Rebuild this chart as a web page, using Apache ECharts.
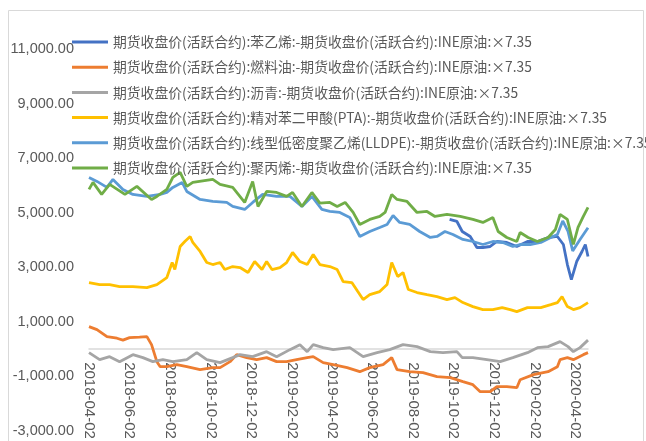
<!DOCTYPE html>
<html>
<head>
<meta charset="utf-8">
<script src="https://cdn.jsdelivr.net/npm/echarts@6/dist/echarts.min.js"></script>
<style>
  html, body { margin: 0; padding: 0; background: #fff; }
  #main { width: 646px; height: 441px; }
</style>
</head>
<body>
<div id="main"></div>
<script>
// 图例名称
var seriesNames = [
    '期货收盘价(活跃合约):苯乙烯:-期货收盘价(活跃合约):INE原油:×7.35',
    '期货收盘价(活跃合约):燃料油:-期货收盘价(活跃合约):INE原油:×7.35',
    '期货收盘价(活跃合约):沥青:-期货收盘价(活跃合约):INE原油:×7.35',
    '期货收盘价(活跃合约):精对苯二甲酸(PTA):-期货收盘价(活跃合约):INE原油:×7.35',
    '期货收盘价(活跃合约):线型低密度聚乙烯(LLDPE):-期货收盘价(活跃合约):INE原油:×7.35',
    '期货收盘价(活跃合约):聚丙烯:-期货收盘价(活跃合约):INE原油:×7.35'
];
var seriesColors = ['#4472C4', '#ED7D31', '#A5A5A5', '#FFC000', '#5B9BD5', '#70AD47'];

// x轴刻度标签
var tickDates = ['2018-04-02', '2018-06-02', '2018-08-02', '2018-10-02', '2018-12-02', '2019-02-02',
    '2019-04-02', '2019-06-02', '2019-08-02', '2019-10-02', '2019-12-02', '2020-02-02', '2020-04-02'];
var startDate = '2018-04-02';
var endDate = '2020-04-21';

// y轴刻度
var yMin = -3000, yMax = 11000, yStep = 2000;

// 苯乙烯
var styrene = [
    ['2019-09-26', 4753], ['2019-10-07', 4679], ['2019-10-15', 4312], ['2019-10-27', 4129], ['2019-11-06', 3725],
    ['2019-11-15', 3725], ['2019-11-26', 3762], ['2019-12-06', 3945], ['2019-12-21', 3909], ['2020-01-05', 3762],
    ['2020-01-21', 3945], ['2020-02-05', 3945], ['2020-02-21', 4092], ['2020-03-06', 4129], ['2020-03-15', 3835],
    ['2020-03-21', 3101], ['2020-03-27', 2551], ['2020-04-04', 3211], ['2020-04-12', 3579], ['2020-04-17', 3835],
    ['2020-04-21', 3395]
];
// 燃料油
var fuelOil = [
    ['2018-04-02', 826], ['2018-04-14', 716], ['2018-04-29', 459], ['2018-05-14', 400], ['2018-05-23', 330],
    ['2018-06-02', 422], ['2018-06-17', 440], ['2018-06-28', 459], ['2018-07-05', 165], ['2018-07-13', -459],
    ['2018-07-18', -642], ['2018-07-28', -642], ['2018-08-12', -569], ['2018-08-27', -642], ['2018-09-16', -752],
    ['2018-10-05', -679], ['2018-10-16', -679], ['2018-10-31', -459], ['2018-11-10', -202], ['2018-11-25', -312],
    ['2018-12-10', -385], ['2018-12-25', -312], ['2019-01-09', -459], ['2019-01-24', -459], ['2019-02-08', -385],
    ['2019-02-24', -312], ['2019-03-05', -275], ['2019-03-20', -495], ['2019-04-04', -569], ['2019-04-25', -679],
    ['2019-05-14', -826], ['2019-05-29', -679], ['2019-06-18', -569], ['2019-07-01', -312], ['2019-07-09', -752],
    ['2019-07-28', -826], ['2019-08-17', -862], ['2019-09-07', -1009], ['2019-09-27', -1046], ['2019-10-16', -1193],
    ['2019-10-31', -1303], ['2019-11-11', -1560], ['2019-11-26', -1560], ['2019-12-06', -1376], ['2019-12-21', -1376],
    ['2020-01-05', -1413], ['2020-01-10', -1120], ['2020-01-30', -936], ['2020-02-21', -826], ['2020-03-06', -642],
    ['2020-03-10', -385], ['2020-03-21', -312], ['2020-03-30', -385], ['2020-04-14', -202], ['2020-04-21', -128]
];
// 沥青
var asphalt = [
    ['2018-04-02', -128], ['2018-04-18', -385], ['2018-05-03', -275], ['2018-05-18', -459], ['2018-06-07', -202],
    ['2018-06-22', -312], ['2018-07-07', -459], ['2018-07-22', -385], ['2018-08-06', -459], ['2018-08-27', -385],
    ['2018-09-11', -128], ['2018-09-26', -385], ['2018-10-16', -495], ['2018-11-04', -312], ['2018-11-15', -202],
    ['2018-12-04', -275], ['2018-12-25', -92], ['2019-01-09', -275], ['2019-01-29', -18], ['2019-02-13', 165],
    ['2019-02-24', -92], ['2019-03-05', 165], ['2019-03-20', 55], ['2019-04-04', -18], ['2019-04-29', 55],
    ['2019-05-19', -275], ['2019-06-09', -128], ['2019-06-28', -18], ['2019-07-18', 165], ['2019-08-08', 92],
    ['2019-08-28', -92], ['2019-09-16', -128], ['2019-10-07', -92], ['2019-10-15', -312], ['2019-10-31', -312],
    ['2019-11-21', -385], ['2019-12-11', -459], ['2019-12-30', -312], ['2020-01-21', -128], ['2020-02-05', 55],
    ['2020-02-21', 92], ['2020-03-10', 275], ['2020-03-22', 92], ['2020-03-30', -92], ['2020-04-09', 55],
    ['2020-04-21', 330]
];
// PTA
var pta = [
    ['2018-04-02', 2441], ['2018-04-18', 2367], ['2018-05-03', 2367], ['2018-05-18', 2294], ['2018-06-07', 2294],
    ['2018-06-28', 2257], ['2018-07-13', 2367], ['2018-07-28', 2624], ['2018-08-05', 3175], ['2018-08-09', 2918],
    ['2018-08-17', 3762], ['2018-08-24', 3945], ['2018-09-01', 4129], ['2018-09-05', 3909], ['2018-09-16', 3579],
    ['2018-09-26', 3175], ['2018-10-05', 3101], ['2018-10-16', 3175], ['2018-10-23', 2918], ['2018-11-04', 3028],
    ['2018-11-15', 2991], ['2018-11-27', 2808], ['2018-12-07', 3211], ['2018-12-18', 2918], ['2018-12-25', 3211],
    ['2019-01-02', 2918], ['2019-01-14', 2991], ['2019-01-24', 3175], ['2019-02-02', 3542], ['2019-02-13', 3211],
    ['2019-02-24', 3101], ['2019-03-05', 3468], ['2019-03-15', 3101], ['2019-03-30', 3028], ['2019-04-10', 2918],
    ['2019-04-19', 2477], ['2019-05-02', 2441], ['2019-05-11', 2110], ['2019-05-19', 1817], ['2019-05-29', 2000],
    ['2019-06-13', 2110], ['2019-06-24', 2367], ['2019-07-01', 3175], ['2019-07-10', 2661], ['2019-07-18', 2808],
    ['2019-07-26', 2184], ['2019-08-08', 2074], ['2019-08-23', 2000], ['2019-09-07', 1927], ['2019-09-22', 1817],
    ['2019-10-04', 1890], ['2019-10-16', 1707], ['2019-10-31', 1560], ['2019-11-15', 1450], ['2019-11-30', 1450],
    ['2019-12-14', 1523], ['2019-12-26', 1450], ['2020-01-05', 1376], ['2020-01-21', 1523], ['2020-02-10', 1523],
    ['2020-02-25', 1633], ['2020-03-06', 1707], ['2020-03-13', 1927], ['2020-03-21', 1560], ['2020-03-30', 1450],
    ['2020-04-09', 1523], ['2020-04-21', 1707]
];
// LLDPE
var lldpe = [
    ['2018-04-02', 6294], ['2018-04-14', 6147], ['2018-04-29', 5927], ['2018-05-08', 6220], ['2018-05-23', 5854],
    ['2018-06-07', 5670], ['2018-06-28', 5597], ['2018-07-18', 5670], ['2018-07-28', 5743], ['2018-08-06', 5927],
    ['2018-08-20', 6110], ['2018-08-27', 5780], ['2018-09-16', 5487], ['2018-10-05', 5413], ['2018-10-26', 5377],
    ['2018-11-04', 5230], ['2018-11-22', 5120], ['2018-12-04', 5377], ['2018-12-19', 5670], ['2019-01-09', 5597],
    ['2019-01-29', 5597], ['2019-02-16', 5230], ['2019-03-03', 5597], ['2019-03-18', 5120], ['2019-03-30', 5046],
    ['2019-04-14', 5010], ['2019-04-29', 4826], ['2019-05-14', 4129], ['2019-05-29', 4312], ['2019-06-13', 4459],
    ['2019-06-24', 4569], ['2019-07-03', 4900], ['2019-07-13', 4643], ['2019-07-28', 4569], ['2019-08-12', 4312],
    ['2019-08-28', 4092], ['2019-09-07', 4129], ['2019-09-19', 4312], ['2019-10-01', 4202], ['2019-10-16', 4019],
    ['2019-10-31', 3945], ['2019-11-15', 3835], ['2019-11-30', 3945], ['2019-12-15', 3909], ['2019-12-30', 3762],
    ['2020-01-10', 3835], ['2020-01-25', 3835], ['2020-02-10', 3909], ['2020-02-25', 4092], ['2020-03-06', 4202],
    ['2020-03-14', 4700], ['2020-03-22', 4312], ['2020-03-29', 3600], ['2020-04-09', 4019], ['2020-04-21', 4450]
];
// 聚丙烯
var pp = [
    ['2018-04-02', 5854], ['2018-04-08', 6110], ['2018-04-21', 5670], ['2018-05-03', 6037], ['2018-05-26', 5670],
    ['2018-06-13', 5964], ['2018-07-05', 5487], ['2018-07-13', 5597], ['2018-07-28', 5854], ['2018-08-06', 6294],
    ['2018-08-17', 6478], ['2018-08-27', 5964], ['2018-09-05', 6110], ['2018-10-05', 6220], ['2018-10-16', 6037],
    ['2018-11-04', 5927], ['2018-11-22', 5377], ['2018-12-04', 6147], ['2018-12-12', 5230], ['2018-12-25', 5780],
    ['2019-01-09', 5743], ['2019-01-24', 5597], ['2019-02-02', 5743], ['2019-02-16', 5230], ['2019-03-03', 5743],
    ['2019-03-15', 5350], ['2019-03-30', 5377], ['2019-04-10', 5230], ['2019-04-22', 5377], ['2019-05-04', 5010],
    ['2019-05-14', 4569], ['2019-05-29', 4753], ['2019-06-13', 4863], ['2019-06-21', 5010], ['2019-07-01', 5670],
    ['2019-07-09', 5487], ['2019-07-24', 5413], ['2019-08-08', 5010], ['2019-08-23', 5046], ['2019-09-04', 4863],
    ['2019-09-22', 4936], ['2019-10-12', 4863], ['2019-10-31', 4753], ['2019-11-15', 4643], ['2019-11-30', 4826],
    ['2019-12-08', 4312], ['2019-12-21', 4092], ['2020-01-05', 3945], ['2020-01-10', 4276], ['2020-01-22', 4092],
    ['2020-02-05', 3945], ['2020-02-21', 4092], ['2020-03-03', 4386], ['2020-03-10', 4936], ['2020-03-21', 4753],
    ['2020-03-30', 3835], ['2020-04-06', 4459], ['2020-04-14', 4863], ['2020-04-21', 5193]
];

var allData = [styrene, fuelOil, asphalt, pta, lldpe, pp];

function ts(s) {
    var p = s.split('-');
    return new Date(+p[0], +p[1] - 1, +p[2]).getTime();
}
function pad(n) { return n < 10 ? '0' + n : '' + n; }

var myChart = echarts.init(document.getElementById('main'));

// 网格
var gridTop = 49, gridBottom = 10, chartH = 441;
var gridH = chartH - gridTop - gridBottom;
// x轴放到0的位置（标签跟着轴线走）
var xOffset = -gridH * (0 - yMin) / (yMax - yMin);

var series = [];
for (var i = 0; i < allData.length; i++) {
    series.push({
        name: seriesNames[i],
        type: 'line',
        showSymbol: false,
        symbol: 'none',
        lineStyle: { width: 2.8, color: seriesColors[i] },
        itemStyle: { color: seriesColors[i] },
        data: allData[i].map(function (d) { return [ts(d[0]), d[1]]; })
    });
}

option = {
    animation: false,
    color: seriesColors,
    textStyle: { fontFamily: "'Liberation Sans', 'Noto Sans CJK SC', sans-serif" },
    graphic: [{
        type: 'rect',
        shape: { x: 8.5, y: 10.5, width: 635, height: 440 },
        style: { fill: 'none', stroke: '#D9D9D9', lineWidth: 1 },
        silent: true
    }],
    legend: {
        orient: 'vertical',
        left: 72,
        top: 34,
        padding: 0,
        icon: 'rect',
        itemWidth: 36,
        itemHeight: 3,
        itemGap: 9.2,
        textStyle: {
            color: '#595959',
            fontSize: 13.8,
            lineHeight: 16,
            fontFamily: "'Noto Sans CJK SC', sans-serif"
        },
        data: seriesNames
    },
    grid: {
        left: 89,
        right: 58,
        top: gridTop,
        bottom: gridBottom,
        outerBoundsMode: 'none'
    },
    xAxis: {
        type: 'value',
        min: ts(startDate),
        max: ts(endDate),
        offset: xOffset,
        axisLine: { onZero: false, lineStyle: { color: '#D9D9D9', width: 1.5 } },
        axisTick: { show: false },
        splitLine: { show: false },
        axisLabel: {
            customValues: tickDates.map(ts),
            rotate: -90,
            margin: 13,
            color: '#595959',
            fontSize: 15,
            hideOverlap: false,
            formatter: function (v) {
                var d = new Date(v);
                return d.getFullYear() + '-' + pad(d.getMonth() + 1) + '-' + pad(d.getDate());
            }
        }
    },
    yAxis: {
        type: 'value',
        min: yMin,
        max: yMax,
        interval: yStep,
        axisLine: { show: false },
        axisTick: { show: false },
        splitLine: { show: false },
        axisLabel: {
            color: '#595959',
            fontSize: 14.5,
            margin: 15,
            formatter: function (v) {
                return v.toLocaleString('en-US', { minimumFractionDigits: 2, maximumFractionDigits: 2 });
            }
        }
    },
    series: series
};

myChart.setOption(option);
</script>
</body>
</html>
